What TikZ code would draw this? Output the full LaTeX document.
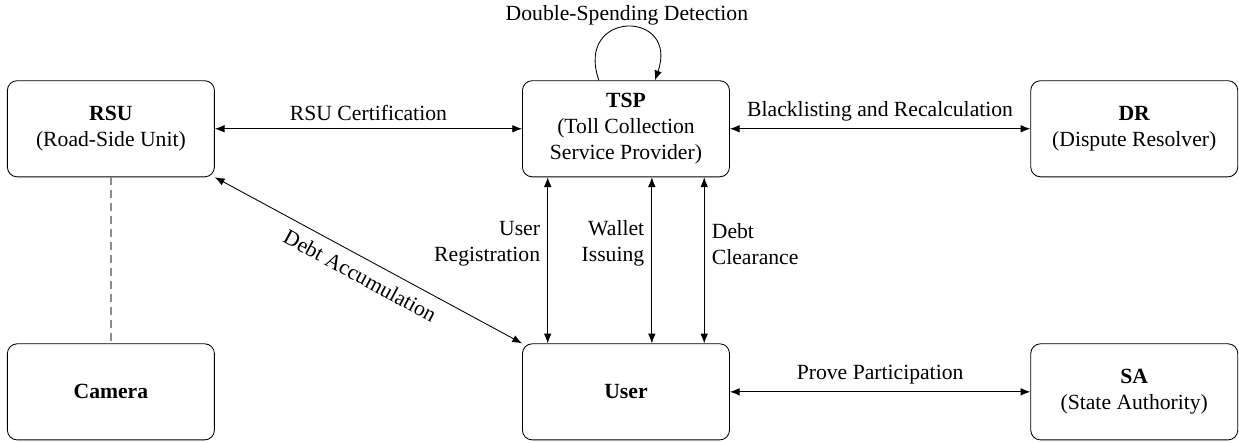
\documentclass[tikz,border=0pt]{standalone}
\usepackage{fontspec}
\setmainfont{Liberation Serif}
\usepackage{tikz}
\usetikzlibrary{arrows.meta}

\begin{document}
\begin{tikzpicture}[>={Latex[length=4.5pt,width=3.5pt]}]
            \tikzstyle{entity}=[draw=black, rounded corners=4.5pt, minimum width=3.36cm, minimum height=1.56cm, align=center, inner sep=2pt]
            \tikzstyle{flow}=[black, <->]
            \useasboundingbox (0,0) rectangle (20.11,-7.19);
            \node [entity] (rsu) at (1.80,-2.09) {\textbf{RSU}\\(Road-Side Unit)};
            \node [entity] (tsp) at (10.16,-2.09) {\textbf{TSP}\\(Toll Collection\\Service Provider)};
            \node [entity] (dr) at (18.41,-2.09) {\textbf{DR}\\(Dispute Resolver)};
            \node [entity] (cam) at (1.80,-6.36) {\textbf{Camera}};
            \node [entity] (user) at (10.16,-6.36) {\textbf{User}};
            \node [entity] (sa) at (18.41,-6.36) {\textbf{SA}\\(State Authority)};
            \draw [flow] (rsu) -- (tsp) node [midway, above] {RSU Certification};
            \draw [flow] (tsp) -- (dr) node [midway, above] {Blacklisting and Recalculation};
            \draw [flow] (user) -- (sa) node [midway, above] {Prove Participation};
            \draw [gray!90, line width=0.6pt, dash pattern=on 3.5pt off 2.5pt] (rsu) -- (cam);
            \draw [flow] (rsu.south east) -- (user.north west) node [midway, below=1pt, sloped] {Debt Accumulation};
            \draw [flow] ([xshift=-1.27cm]tsp.south) -- ([xshift=-1.27cm]user.north) node [pos=0.4, left, align=right] {User\\Registration};
            \draw [flow] ([xshift=0.42cm]tsp.south) -- ([xshift=0.42cm]user.north) node [pos=0.4, left, align=right] {Wallet\\Issuing};
            \draw [flow] ([xshift=1.27cm]tsp.south) -- ([xshift=1.27cm]user.north) node [pos=0.4, right, align=left] {Debt\\Clearance};
            \draw [black, ->] ([xshift=-0.44cm]tsp.north) .. controls +(-0.4,1.15) and +(0.4,1.15) .. ([xshift=0.47cm]tsp.north) node [pos=0.5, above, inner sep=0.5pt] {Double-Spending Detection};
        \end{tikzpicture}
\end{document}
